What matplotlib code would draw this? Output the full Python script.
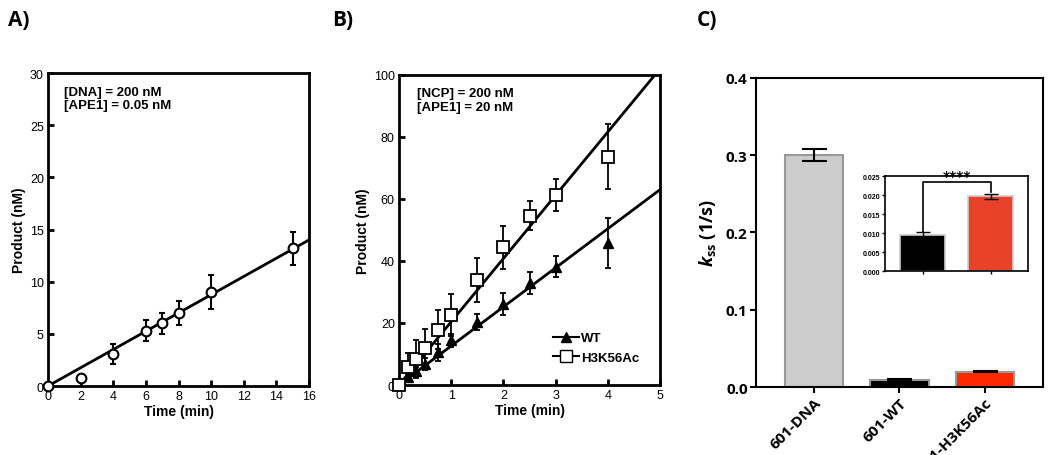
import matplotlib.pyplot as plt

plt.rcParams['font.family'] = ['Liberation Sans', 'DejaVu Sans']
plt.rcParams['mathtext.fontset'] = 'custom'
plt.rcParams['mathtext.it'] = 'Open Sans:italic:bold'
plt.rcParams['mathtext.rm'] = 'Open Sans:bold'

# panel A data
a_time = [0, 2, 4, 6, 7, 8, 10, 15]
a_prod = [0, 0.8, 3.1, 5.3, 6.0, 7.0, 9.0, 13.2]
a_err = [0, 0.3, 0.95, 1.0, 1.0, 1.15, 1.6, 1.6]
a_slope = 0.875

# panel B data
b_time = [0, 0.167, 0.333, 0.5, 0.75, 1.0, 1.5, 2.0, 2.5, 3.0, 4.0]
b_wt = [0, 2.5, 4.4, 6.8, 10.6, 14.4, 20.3, 26.1, 33.0, 38.2, 45.7]
b_wt_err = [0, 1.0, 1.5, 2.0, 2.7, 2.1, 2.7, 3.6, 3.5, 3.3, 8.0]
b_ac = [0, 5.7, 8.4, 11.9, 17.8, 22.7, 33.8, 44.4, 54.6, 61.2, 73.6]
b_ac_err = [0, 4.6, 6.0, 6.3, 6.3, 6.8, 7.0, 7.0, 4.6, 5.2, 10.5]
b_wt_slope = 12.6
b_ac_slope = 20.4

# panel C data
c_names = ['601-DNA', '601-WT', '601-H3K56Ac']
c_kss = [0.300, 0.0096, 0.0197]
c_err = [0.0075, 0.0007, 0.0007]
c_colors = ['#cccccc', '#000000', '#ff2a00']
inset_names = ['601-WT', '601-H3K56Ac']
inset_kss = [0.0096, 0.0197]
inset_err = [0.0007, 0.0007]
inset_colors = ['#000000', '#e8432a']

fig = plt.figure(figsize=(10.5, 4.56), dpi=100)

def style_ab(ax):
    for s in ax.spines.values():
        s.set_linewidth(2)
    ax.tick_params(direction='in', width=2, length=4, labelsize=9, pad=3)

# ---- A ----
ax = fig.add_axes([0.0457, 0.1513, 0.2486, 0.6864])
ax.plot([0, 16], [0, 16 * a_slope], color='black', lw=2, zorder=2)
ax.errorbar(a_time, a_prod, yerr=a_err, fmt='o', mfc='white', mec='black', mew=1.5,
            ms=7, ecolor='black', elinewidth=1.5, capsize=2.5, capthick=1.5, zorder=3,
            clip_on=False)
ax.set_xlim(0, 16)
ax.set_ylim(0, 30)
ax.set_xticks(range(0, 17, 2))
ax.set_yticks(range(0, 31, 5))
ax.set_xlabel('Time (min)', fontsize=10, fontweight='bold', labelpad=1)
ax.set_ylabel('Product (nM)', fontsize=10, fontweight='bold', labelpad=3)
ax.text(0.06, 0.96, '[DNA] = 200 nM\n[APE1] = 0.05 nM', transform=ax.transAxes,
        fontsize=9.5, fontweight='bold', va='top', linespacing=1.15)
style_ab(ax)
fig.text(0.008, 0.955, 'A)', fontsize=15, fontweight='bold', va='center',
         family=['Open Sans', 'DejaVu Sans'])

# ---- B ----
ax = fig.add_axes([0.38, 0.1535, 0.2486, 0.680])
ax.plot([0, 5], [0, 5 * b_wt_slope], color='black', lw=2, zorder=2)
ax.plot([0, 5], [0, 5 * b_ac_slope], color='black', lw=2, zorder=2)
ax.errorbar(b_time, b_wt, yerr=b_wt_err, fmt='^', mfc='black', mec='black',
            ms=7, ecolor='black', elinewidth=1.3, capsize=2.5, capthick=1.3, zorder=3,
            clip_on=False)
ax.errorbar(b_time, b_ac, yerr=b_ac_err, fmt='s', mfc='white', mec='black', mew=1.3,
            ms=8, ecolor='black', elinewidth=1.3, capsize=2.5, capthick=1.3, zorder=4,
            clip_on=False)
h1, = ax.plot([], [], '-^', color='black', ms=7, lw=1.5)
h2, = ax.plot([], [], '-s', color='black', mfc='white', ms=8, lw=1.5)
ax.legend([h1, h2], ['WT', 'H3K56Ac'], loc='lower right', frameon=False,
          prop={'weight': 'bold', 'size': 9.5}, handlelength=2.0, handletextpad=0.1,
          borderaxespad=1.2, labelspacing=0.55)
ax.set_xlim(0, 5)
ax.set_ylim(0, 100)
ax.set_xticks(range(0, 6))
ax.set_yticks(range(0, 101, 20))
ax.set_xlabel('Time (min)', fontsize=10, fontweight='bold', labelpad=1)
ax.set_ylabel('Product (nM)', fontsize=10, fontweight='bold', labelpad=3)
ax.text(0.07, 0.96, '[NCP] = 200 nM\n[APE1] = 20 nM', transform=ax.transAxes,
        fontsize=9.5, fontweight='bold', va='top', linespacing=1.15)
style_ab(ax)
fig.text(0.316, 0.955, 'B)', fontsize=15, fontweight='bold', va='center',
         family=['Open Sans', 'DejaVu Sans'])

# ---- C ----
cfont = ['Open Sans', 'DejaVu Sans']
ax = fig.add_axes([0.72, 0.149, 0.2733, 0.678])
x = range(len(c_names))
ax.bar(x, c_kss, width=0.68, color=c_colors, edgecolor='#999999', linewidth=1.5, zorder=2)
ax.errorbar(x, c_kss, yerr=c_err, fmt='none', ecolor='black', elinewidth=1.5,
            capsize=9, capthick=1.5, zorder=3)
ax.set_xlim(-0.68, 2.68)
ax.set_ylim(0, 0.4)
ax.set_yticks([0.0, 0.1, 0.2, 0.3, 0.4])
ax.set_yticklabels(['0.0', '0.1', '0.2', '0.3', '0.4'], fontweight='bold',
                   fontsize=11, family=cfont)
ax.set_xticks(list(x))
ax.set_xticklabels(c_names, rotation=45, ha='right', rotation_mode='anchor',
                   fontweight='bold', fontsize=11, family=cfont)
for s in ax.spines.values():
    s.set_linewidth(1.5)
ax.tick_params(direction='out', width=1.5, length=4, pad=2)
ax.set_ylabel(r'$k_{\mathrm{ss}}$ (1/s)', fontsize=13, fontweight='bold',
              family=cfont, labelpad=6)
fig.text(0.664, 0.955, 'C)', fontsize=15, fontweight='bold', va='center', family=cfont)

# inset
ins = fig.add_axes([0.843, 0.4035, 0.136, 0.208])
xi = range(len(inset_names))
ins.bar(xi, inset_kss, width=0.65, color=inset_colors, edgecolor='#cccccc',
        linewidth=1.2, zorder=2)
ins.errorbar(xi, inset_kss, yerr=inset_err, fmt='none', ecolor='black', elinewidth=1,
             capsize=5, capthick=1, zorder=3)
ins.plot([0, 0, 1, 1], [inset_kss[0] + inset_err[0], 0.0235, 0.0235,
                        inset_kss[1] + inset_err[1] + 0.0005],
         color='black', lw=1.2)
ins.text(0.5, 0.0233, '****', ha='center', va='bottom', fontsize=10, fontweight='bold',
         family=['DejaVu Sans'])
ins.set_xlim(-0.55, 1.55)
ins.set_ylim(0, 0.025)
ins.set_yticks([0.0, 0.005, 0.010, 0.015, 0.020, 0.025])
ins.set_yticklabels(['0.000', '0.005', '0.010', '0.015', '0.020', '0.025'],
                    fontsize=5, fontweight='bold')
ins.set_xticks(list(xi))
ins.set_xticklabels([])
for s in ins.spines.values():
    s.set_linewidth(1.2)
ins.tick_params(direction='out', width=1, length=2.5, pad=1)

fig.savefig('out.png', dpi=100)
